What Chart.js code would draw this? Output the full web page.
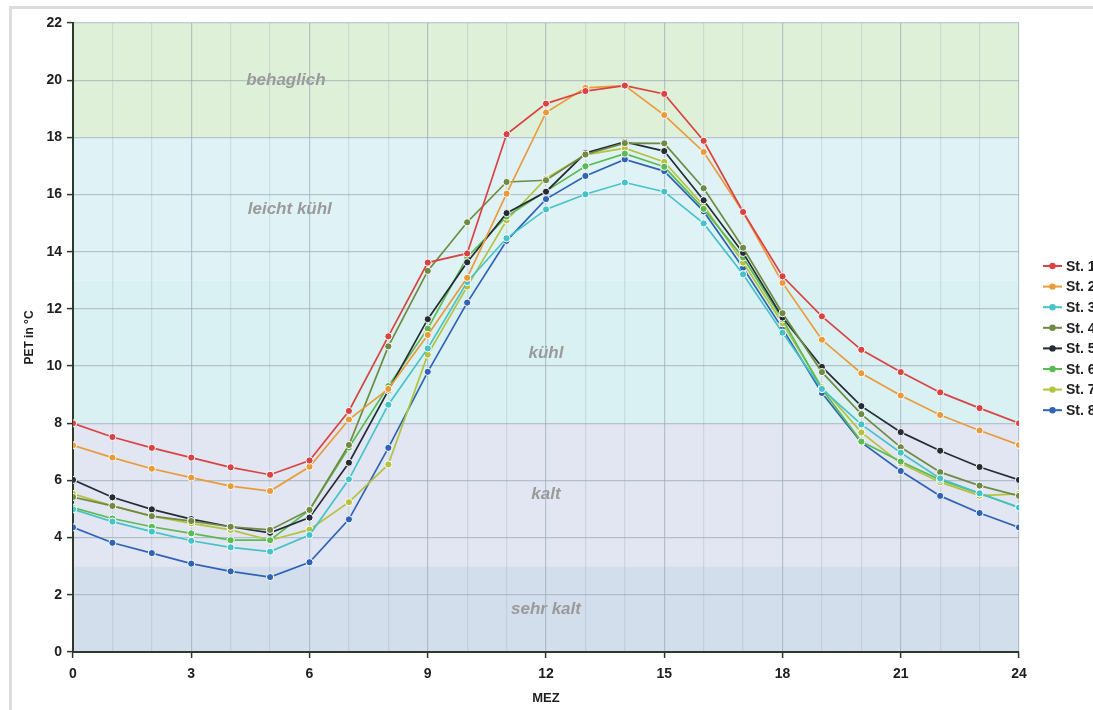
<!DOCTYPE html>
<html lang="de">
<head>
    <meta charset="UTF-8">
    <title>PET Tagesgang</title>
    <script src="https://cdn.jsdelivr.net/npm/chart.js"></script>
    <style>
        html, body { margin: 0; padding: 0; background: #fff; overflow: hidden; }
        #frame { position: absolute; left: 9px; top: 6px; width: 1200px; height: 800px; border: 3px solid #dcdcdc; }
        #wrap { position: absolute; left: 0; top: 0; width: 1093px; height: 710px; }
    </style>
</head>
<body>
<div id="frame"></div>
<div id="wrap"><canvas id="petChart" width="1093" height="710"></canvas></div>

<script>
    // hours (MEZ)
    const hours = [0,1,2,3,4,5,6,7,8,9,10,11,12,13,14,15,16,17,18,19,20,21,22,23,24];

    // PET values per station
    const st1 = [8.0, 7.52, 7.14, 6.80, 6.46, 6.20, 6.70, 8.43, 11.04, 13.62, 13.94, 18.11, 19.18, 19.62, 19.81, 19.52, 17.88, 15.39, 13.14, 11.74, 10.57, 9.79, 9.08, 8.53, 8.0];
    const st2 = [7.23, 6.80, 6.41, 6.10, 5.80, 5.63, 6.48, 8.13, 9.2, 11.09, 13.09, 16.03, 18.87, 19.73, 19.81, 18.78, 17.49, 15.39, 12.91, 10.92, 9.75, 8.97, 8.29, 7.75, 7.24];
    const st3 = [4.99, 4.56, 4.21, 3.89, 3.66, 3.51, 4.09, 6.04, 8.65, 10.62, 12.94, 14.47, 15.48, 16.01, 16.42, 16.10, 14.99, 13.21, 11.17, 9.2, 7.96, 6.97, 6.07, 5.55, 5.05];
    const st4 = [5.42, 5.11, 4.75, 4.58, 4.38, 4.27, 4.97, 7.24, 10.69, 13.33, 15.03, 16.44, 16.5, 17.4, 17.8, 17.79, 16.22, 14.14, 11.85, 9.79, 8.32, 7.16, 6.29, 5.82, 5.46];
    const st5 = [6.02, 5.41, 4.99, 4.65, 4.38, 4.17, 4.70, 6.62, 9.15, 11.64, 13.63, 15.35, 16.1, 17.45, 17.84, 17.52, 15.80, 13.96, 11.7, 9.97, 8.60, 7.69, 7.04, 6.47, 6.02];
    const st6 = [5.05, 4.67, 4.38, 4.15, 3.91, 3.91, 4.97, 7.15, 9.30, 11.31, 13.81, 15.23, 16.12, 16.99, 17.43, 16.97, 15.5, 13.8, 11.64, 9.2, 7.36, 6.66, 6.02, 5.55, 5.06];
    const st7 = [5.53, 5.11, 4.75, 4.50, 4.27, 3.91, 4.28, 5.24, 6.56, 10.40, 12.78, 15.10, 16.56, 17.39, 17.62, 17.14, 15.62, 13.62, 11.50, 9.26, 7.68, 6.60, 5.94, 5.47, 5.53];
    const st8 = [4.36, 3.82, 3.46, 3.09, 2.82, 2.62, 3.14, 4.64, 7.14, 9.80, 12.22, 14.38, 15.84, 16.65, 17.23, 16.82, 15.41, 13.44, 11.31, 9.06, 7.33, 6.33, 5.46, 4.86, 4.36];

    const stationNames = ['St. 1', 'St. 2', 'St. 3', 'St. 4', 'St. 5', 'St. 6', 'St. 7', 'St. 8'];
    const stationColors = ['#d94343', '#e99b3c', '#45c3c9', '#6f8a42', '#252c35', '#5bbb52', '#b5c23e', '#2f63b5'];

    // thermal perception classes (PET limits)
    const bandNames = ['sehr kalt', 'kalt', 'kühl', 'leicht kühl', 'behaglich'];
    const bandLimits = [0, 3, 8, 13, 18, 22];
    const bandColors = ['#d3deec', '#e1e6f2', '#d9f1f2', '#dff3f7', '#dff0d9'];
    const bandLabelX = [12, 12, 12, 5.5, 5.4];
    const bandLabelY = [1.5, 5.5, 10.45, 15.5, 20.0];

    const yTicks = [0, 2, 4, 6, 8, 10, 12, 14, 16, 18, 20, 22];

    const series = [st1, st2, st3, st4, st5, st6, st7, st8];

    // background bands + labels
    const bandPlugin = {
        id: 'bands',
        beforeDraw(chart) {
            const c = chart.ctx;
            const area = chart.chartArea;
            const x = chart.scales.x, y = chart.scales.y;
            c.save();
            for (let i = 0; i < bandNames.length; i++) {
                const top = y.getPixelForValue(bandLimits[i + 1]);
                const bot = y.getPixelForValue(bandLimits[i]);
                c.fillStyle = bandColors[i];
                c.fillRect(area.left, top, area.right - area.left, bot - top);
            }
            c.font = 'italic bold 17px "Liberation Sans", Arial, sans-serif';
            c.fillStyle = '#9a9a9a';
            c.textAlign = 'center';
            c.textBaseline = 'middle';
            for (let i = 0; i < bandNames.length; i++) {
                c.fillText(bandNames[i], x.getPixelForValue(bandLabelX[i]), y.getPixelForValue(bandLabelY[i]));
            }
            c.restore();
        }
    };

    // legend on the right (cut by the window like the original)
    const legendPlugin = {
        id: 'sideLegend',
        afterDraw(chart) {
            const c = chart.ctx;
            c.save();
            c.font = 'bold 14px "Liberation Sans", Arial, sans-serif';
            c.textBaseline = 'middle';
            c.textAlign = 'left';
            chart.data.datasets.forEach((ds, i) => {
                const yy = 266 + i * 20.6;
                c.strokeStyle = ds.borderColor;
                c.lineWidth = 2;
                c.beginPath();
                c.moveTo(1043, yy);
                c.lineTo(1062, yy);
                c.stroke();
                c.fillStyle = ds.borderColor;
                c.beginPath();
                c.arc(1052.5, yy, 3.2, 0, Math.PI * 2);
                c.fill();
                c.fillStyle = '#1e1e1e';
                c.fillText(ds.label, 1066, yy + 1);
            });
            c.restore();
        }
    };

    const ctx = document.getElementById('petChart').getContext('2d');
    const petChart = new Chart(ctx, {
        type: 'line',
        data: {
            datasets: series.map((vals, i) => ({
                label: stationNames[i],
                data: hours.map((h, k) => ({ x: h, y: vals[k] })),
                borderColor: stationColors[i],
                backgroundColor: stationColors[i],
                pointBackgroundColor: stationColors[i],
                pointBorderColor: '#ffffff',
                pointBorderWidth: 1,
                pointRadius: 3.6,
                borderWidth: 1.7,
                tension: 0,
                fill: false
            }))
        },
        options: {
            responsive: false,
            animation: false,
            events: [],
            layout: { padding: { top: 23, right: 74, left: 0, bottom: 0 } },
            plugins: {
                legend: { display: false },
                tooltip: { enabled: false }
            },
            scales: {
                x: {
                    type: 'linear',
                    min: 0,
                    max: 24,
                    afterFit: s => { s.height = 58; },
                    ticks: {
                        stepSize: 1,
                        autoSkip: false,
                        maxRotation: 0,
                        padding: 8,
                        color: '#1e1e1e',
                        font: { family: '"Liberation Sans", Arial, sans-serif', size: 14, weight: 'bold' },
                        callback: v => (v % 3 === 0 ? v : '')
                    },
                    grid: {
                        color: c => (c.tick && c.tick.value % 3 === 0 ? 'rgba(150,165,178,0.6)' : 'rgba(165,180,195,0.35)'),
                        lineWidth: 1.2,
                        tickLength: 6,
                        tickWidth: 1.5,
                        tickColor: c => (c.tick && c.tick.value % 3 === 0 ? '#2b3a2b' : 'rgba(0,0,0,0)')
                    },
                    border: { color: '#2b3a2b', width: 2 },
                    title: {
                        display: true,
                        text: 'MEZ',
                        color: '#1e1e1e',
                        padding: { top: 0, bottom: 4 },
                        font: { family: '"Liberation Sans", Arial, sans-serif', size: 13, weight: 'bold' }
                    }
                },
                y: {
                    min: 0,
                    max: 22,
                    afterFit: s => { s.width = 73; },
                    afterBuildTicks: s => { s.ticks = yTicks.map(v => ({ value: v })); },
                    ticks: {
                        padding: 5,
                        color: '#1e1e1e',
                        font: { family: '"Liberation Sans", Arial, sans-serif', size: 14, weight: 'bold' }
                    },
                    grid: {
                        color: 'rgba(150,165,178,0.6)',
                        lineWidth: 1.2,
                        tickLength: 6,
                        tickWidth: 1.5,
                        tickColor: '#2b3a2b'
                    },
                    border: { color: '#2b3a2b', width: 2 },
                    title: {
                        display: true,
                        text: 'PET in °C',
                        color: '#1e1e1e',
                        padding: { top: 22, bottom: 0 },
                        font: { family: '"Liberation Sans", Arial, sans-serif', size: 12, weight: 'bold' }
                    }
                }
            }
        },
        plugins: [bandPlugin, legendPlugin]
    });
</script>
</body>
</html>
